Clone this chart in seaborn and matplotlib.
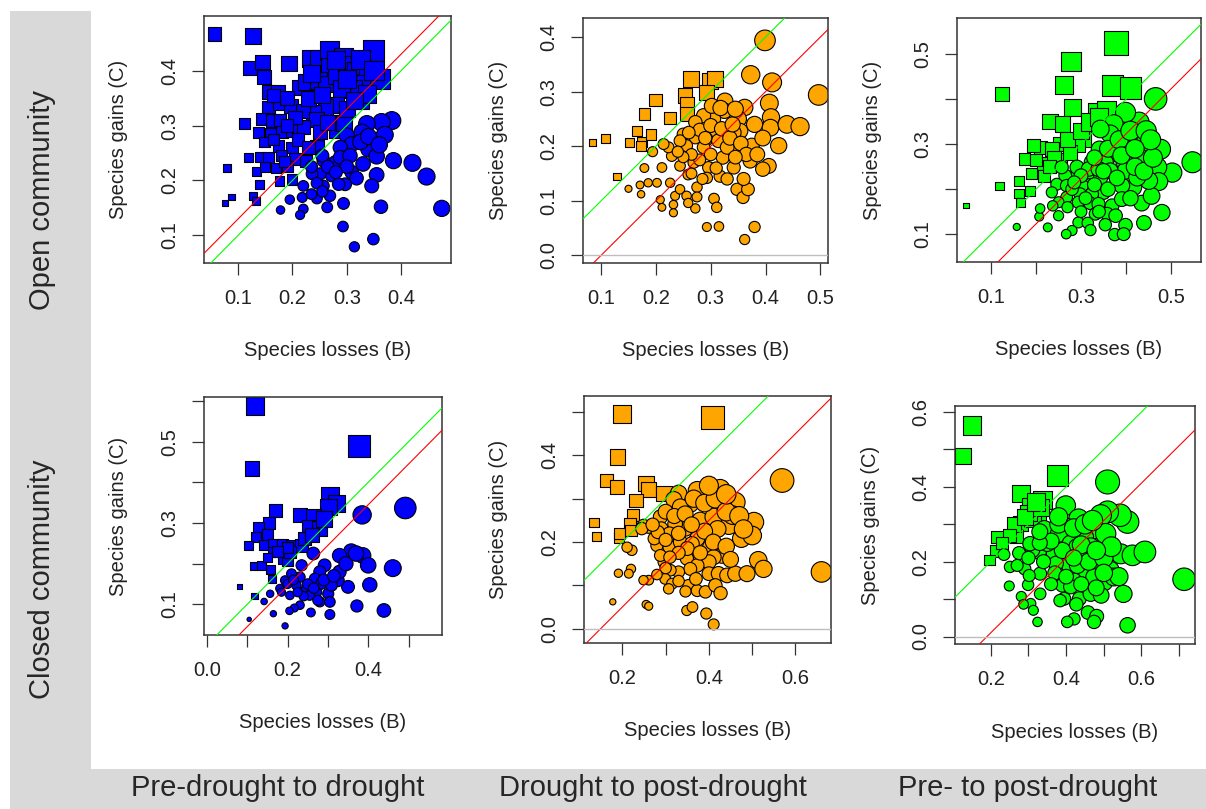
import matplotlib
matplotlib.use("Agg")
import matplotlib.pyplot as plt
from matplotlib.patches import Rectangle
import pandas as pd
import seaborn as sns

# ---------------------------------------------------------------
# Species losses (B) and gains (C) per plot, for each community
# and each transition period.
# ---------------------------------------------------------------
open_pre_B = [
    0.056, 0.127, 0.122, 0.145, 0.147, 0.194, 0.156, 0.173, 0.156, 0.177,
    0.198, 0.214, 0.225, 0.233, 0.248, 0.268, 0.269, 0.248, 0.262, 0.282,
    0.294, 0.312, 0.318, 0.340, 0.349, 0.334, 0.361, 0.312, 0.291, 0.280,
    0.261, 0.239, 0.220, 0.244, 0.282, 0.144, 0.162, 0.177, 0.112, 0.137,
    0.160, 0.180, 0.199, 0.220, 0.251, 0.148, 0.174, 0.199, 0.119, 0.140,
    0.156, 0.180, 0.205, 0.225, 0.080, 0.133, 0.170, 0.191, 0.139, 0.176,
    0.199, 0.088, 0.075, 0.127, 0.133, 0.245, 0.280, 0.295, 0.324, 0.337,
    0.165, 0.190, 0.205, 0.230, 0.255, 0.300, 0.325, 0.280, 0.235, 0.190,
    0.165, 0.210, 0.230, 0.265, 0.300, 0.315, 0.350, 0.150, 0.185,
    0.383, 0.364, 0.337, 0.370, 0.328, 0.300, 0.340, 0.309, 0.288, 0.355,
    0.386, 0.421, 0.447, 0.475, 0.355, 0.346, 0.309, 0.318, 0.297, 0.279,
    0.257, 0.272, 0.251, 0.236, 0.257, 0.220, 0.285, 0.269, 0.245, 0.218,
    0.195, 0.178, 0.220, 0.214, 0.264, 0.294, 0.363, 0.293, 0.349, 0.314,
    0.255, 0.235, 0.288, 0.306,
    0.325, 0.300, 0.265, 0.245, 0.280, 0.330, 0.340, 0.360, 0.235, 0.255,
]
open_pre_C = [
    0.467, 0.463, 0.405, 0.416, 0.388, 0.413, 0.361, 0.361, 0.334, 0.340,
    0.335, 0.370, 0.379, 0.422, 0.422, 0.437, 0.407, 0.382, 0.376, 0.391,
    0.425, 0.410, 0.398, 0.404, 0.437, 0.376, 0.385, 0.367, 0.367, 0.337,
    0.334, 0.324, 0.327, 0.311, 0.306, 0.312, 0.309, 0.309, 0.303, 0.288,
    0.285, 0.288, 0.291, 0.297, 0.288, 0.270, 0.263, 0.260, 0.242, 0.242,
    0.242, 0.245, 0.239, 0.236, 0.223, 0.217, 0.222, 0.226, 0.193, 0.199,
    0.202, 0.170, 0.158, 0.172, 0.163, 0.262, 0.290, 0.305, 0.346, 0.358,
    0.355, 0.350, 0.315, 0.350, 0.355, 0.385, 0.420, 0.420, 0.395, 0.300,
    0.275, 0.275, 0.260, 0.305, 0.330, 0.345, 0.400, 0.225, 0.235,
    0.309, 0.306, 0.303, 0.283, 0.288, 0.282, 0.257, 0.266, 0.260, 0.244,
    0.236, 0.232, 0.207, 0.149, 0.210, 0.190, 0.215, 0.204, 0.193, 0.233,
    0.236, 0.209, 0.212, 0.212, 0.190, 0.190, 0.193, 0.172, 0.167, 0.169,
    0.165, 0.146, 0.148, 0.137, 0.151, 0.158, 0.152, 0.116, 0.093, 0.079,
    0.245, 0.225, 0.242, 0.245,
    0.270, 0.225, 0.225, 0.195, 0.215, 0.230, 0.280, 0.265, 0.175, 0.180,
]

open_post_B = [
    0.084, 0.108, 0.152, 0.129, 0.174, 0.191, 0.165, 0.179, 0.199, 0.226,
    0.253, 0.256, 0.257, 0.264, 0.299, 0.308, 0.292, 0.173,
    0.399, 0.373, 0.412, 0.497, 0.407, 0.410, 0.409, 0.439, 0.463, 0.424,
    0.326, 0.362, 0.325, 0.351, 0.354, 0.305, 0.287, 0.308, 0.272, 0.250,
    0.272, 0.292, 0.314, 0.339, 0.375, 0.256, 0.287, 0.322, 0.372, 0.406,
    0.342, 0.317, 0.296, 0.269, 0.244, 0.229, 0.223, 0.214, 0.211, 0.194,
    0.179, 0.202, 0.186, 0.171, 0.150, 0.173, 0.208, 0.211, 0.226, 0.235,
    0.232, 0.232, 0.244, 0.256, 0.275, 0.275, 0.272, 0.259, 0.306, 0.311,
    0.348, 0.359, 0.368, 0.293, 0.315, 0.380, 0.362, 0.395, 0.330, 0.342,
    0.302, 0.244, 0.293, 0.259,
    0.280, 0.300, 0.320, 0.335, 0.355, 0.365, 0.345, 0.300, 0.280, 0.265,
    0.250, 0.310, 0.330, 0.285, 0.265, 0.360, 0.385, 0.395, 0.380, 0.340,
    0.318, 0.345, 0.290, 0.260, 0.240,
]
open_post_C = [
    0.207, 0.214, 0.207, 0.144, 0.208, 0.222, 0.228, 0.259, 0.285, 0.252,
    0.293, 0.277, 0.259, 0.323, 0.320, 0.323, 0.298, 0.200,
    0.394, 0.331, 0.317, 0.294, 0.279, 0.253, 0.234, 0.240, 0.236, 0.201,
    0.283, 0.271, 0.265, 0.250, 0.228, 0.250, 0.256, 0.228, 0.244, 0.222,
    0.216, 0.213, 0.210, 0.198, 0.201, 0.201, 0.198, 0.179, 0.173, 0.164,
    0.161, 0.145, 0.161, 0.170, 0.164, 0.182, 0.198, 0.204, 0.161, 0.190,
    0.160, 0.133, 0.133, 0.129, 0.122, 0.112, 0.102, 0.088, 0.133, 0.109,
    0.093, 0.078, 0.121, 0.109, 0.125, 0.107, 0.086, 0.096, 0.104, 0.088,
    0.121, 0.106, 0.121, 0.052, 0.053, 0.052, 0.029, 0.158, 0.198, 0.225,
    0.274, 0.210, 0.142, 0.148,
    0.230, 0.238, 0.232, 0.215, 0.205, 0.185, 0.180, 0.185, 0.175, 0.185,
    0.180, 0.160, 0.140, 0.140, 0.150, 0.140, 0.185, 0.215, 0.240, 0.240,
    0.270, 0.268, 0.215, 0.225, 0.190,
]

open_total_B = [
    0.044, 0.119, 0.125, 0.378, 0.278, 0.263, 0.370, 0.410, 0.281, 0.231,
    0.259, 0.335, 0.356, 0.305, 0.292, 0.254, 0.210, 0.194, 0.174, 0.215,
    0.254, 0.190, 0.218, 0.162, 0.186, 0.162, 0.166, 0.235, 0.276,
    0.240, 0.270, 0.300, 0.200, 0.230, 0.320, 0.340,
    0.466, 0.429, 0.399, 0.373, 0.365, 0.343, 0.444, 0.477, 0.426, 0.397,
    0.367, 0.341, 0.324, 0.354, 0.397, 0.548, 0.503, 0.470, 0.473, 0.417,
    0.391, 0.399, 0.365, 0.343, 0.313, 0.317, 0.287, 0.265, 0.246, 0.268,
    0.302, 0.350, 0.324, 0.298, 0.268, 0.235, 0.250, 0.294, 0.320, 0.339,
    0.369, 0.391, 0.435, 0.457, 0.480, 0.358, 0.377, 0.332, 0.294, 0.315,
    0.321, 0.354, 0.399, 0.440, 0.375, 0.395, 0.280, 0.267, 0.226, 0.250,
    0.207, 0.209, 0.157, 0.237, 0.257, 0.291, 0.317, 0.339, 0.451, 0.425,
    0.330, 0.360, 0.385, 0.410, 0.445, 0.390, 0.350, 0.330, 0.300, 0.280,
    0.310, 0.360, 0.380, 0.420, 0.440, 0.460, 0.410, 0.340, 0.300, 0.270,
    0.285, 0.455, 0.420,
]
open_total_C = [
    0.164, 0.207, 0.412, 0.525, 0.484, 0.432, 0.430, 0.425, 0.381, 0.351,
    0.345, 0.371, 0.376, 0.312, 0.300, 0.300, 0.293, 0.297, 0.267, 0.257,
    0.266, 0.234, 0.230, 0.219, 0.197, 0.191, 0.171, 0.289, 0.282,
    0.270, 0.310, 0.330, 0.265, 0.250, 0.350, 0.360,
    0.401, 0.349, 0.371, 0.345, 0.323, 0.334, 0.304, 0.289, 0.274, 0.293,
    0.278, 0.289, 0.260, 0.260, 0.260, 0.260, 0.237, 0.249, 0.217, 0.204,
    0.208, 0.241, 0.241, 0.226, 0.226, 0.208, 0.226, 0.230, 0.211, 0.208,
    0.208, 0.193, 0.189, 0.189, 0.182, 0.193, 0.171, 0.171, 0.169, 0.167,
    0.163, 0.178, 0.169, 0.185, 0.148, 0.145, 0.141, 0.145, 0.126, 0.125,
    0.109, 0.121, 0.120, 0.125, 0.099, 0.100, 0.108, 0.100, 0.115, 0.141,
    0.139, 0.157, 0.116, 0.163, 0.249, 0.249, 0.245, 0.245, 0.219, 0.226,
    0.270, 0.290, 0.310, 0.330, 0.330, 0.275, 0.240, 0.210, 0.230, 0.200,
    0.180, 0.200, 0.225, 0.250, 0.240, 0.270, 0.180, 0.150, 0.150, 0.160,
    0.215, 0.310, 0.290,
]

closed_pre_B = [
    0.120, 0.111, 0.377, 0.306, 0.321, 0.301, 0.171, 0.155, 0.128, 0.122,
    0.150, 0.103, 0.143, 0.165, 0.188, 0.210, 0.235, 0.231, 0.265, 0.254,
    0.280, 0.241, 0.165, 0.189, 0.118, 0.136, 0.157, 0.081, 0.118, 0.161,
    0.200, 0.206, 0.200, 0.175, 0.150, 0.260, 0.290,
    0.492, 0.385, 0.461, 0.387, 0.358, 0.329, 0.400, 0.404, 0.350, 0.325,
    0.329, 0.292, 0.264, 0.280, 0.268, 0.301, 0.272, 0.247, 0.231, 0.222,
    0.206, 0.181, 0.194, 0.210, 0.235, 0.255, 0.231, 0.217, 0.205, 0.258,
    0.305, 0.372, 0.439, 0.165, 0.194, 0.105, 0.142, 0.157, 0.185, 0.280,
    0.305, 0.284, 0.309,
    0.250, 0.240, 0.265, 0.290, 0.315, 0.345, 0.370, 0.200, 0.215, 0.225,
    0.275,
]
closed_pre_C = [
    0.588, 0.434, 0.489, 0.368, 0.348, 0.339, 0.331, 0.300, 0.290, 0.265,
    0.271, 0.245, 0.245, 0.247, 0.247, 0.243, 0.245, 0.319, 0.315, 0.290,
    0.286, 0.261, 0.229, 0.212, 0.194, 0.196, 0.186, 0.144, 0.120, 0.163,
    0.208, 0.229, 0.240, 0.230, 0.215, 0.270, 0.310,
    0.337, 0.320, 0.189, 0.220, 0.230, 0.220, 0.196, 0.148, 0.143, 0.159,
    0.180, 0.196, 0.225, 0.180, 0.163, 0.126, 0.130, 0.139, 0.167, 0.147,
    0.122, 0.139, 0.159, 0.175, 0.196, 0.122, 0.098, 0.091, 0.084, 0.080,
    0.075, 0.096, 0.085, 0.077, 0.047, 0.063, 0.107, 0.126, 0.130, 0.106,
    0.106, 0.151, 0.147,
    0.150, 0.120, 0.140, 0.160, 0.170, 0.200, 0.225, 0.150, 0.160, 0.130,
    0.110,
]

closed_post_B = [
    0.199, 0.409, 0.189, 0.163, 0.188, 0.255, 0.261, 0.232, 0.296, 0.225,
    0.218, 0.134, 0.140, 0.192, 0.194, 0.220,
    0.660, 0.569, 0.504, 0.475, 0.500, 0.446, 0.461, 0.430, 0.400, 0.373,
    0.426, 0.357, 0.330, 0.319, 0.334, 0.380, 0.411, 0.455, 0.373, 0.346,
    0.322, 0.288, 0.290, 0.309, 0.280, 0.309, 0.274, 0.261, 0.249, 0.403,
    0.430, 0.411, 0.400, 0.373, 0.349, 0.373, 0.400, 0.422, 0.442, 0.461,
    0.488, 0.514, 0.526, 0.357, 0.330, 0.311, 0.296, 0.299, 0.315, 0.307,
    0.353, 0.346, 0.373, 0.392, 0.415, 0.427, 0.288, 0.261, 0.249, 0.222,
    0.211, 0.220, 0.215, 0.191, 0.178, 0.255, 0.261, 0.349, 0.362, 0.394,
    0.411, 0.245, 0.282, 0.334, 0.361,
    0.300, 0.320, 0.345, 0.365, 0.390, 0.415, 0.440, 0.470, 0.480, 0.420,
    0.390, 0.360, 0.330, 0.350, 0.330, 0.310, 0.380, 0.410, 0.440, 0.450,
    0.300, 0.330, 0.370, 0.280, 0.300, 0.270, 0.400, 0.440,
]
closed_post_C = [
    0.496, 0.488, 0.396, 0.342, 0.327, 0.335, 0.322, 0.296, 0.312, 0.262,
    0.242, 0.245, 0.213, 0.210, 0.219, 0.227,
    0.131, 0.342, 0.246, 0.208, 0.215, 0.238, 0.292, 0.288, 0.306, 0.319,
    0.322, 0.288, 0.312, 0.298, 0.281, 0.250, 0.258, 0.262, 0.208, 0.231,
    0.242, 0.258, 0.231, 0.219, 0.192, 0.188, 0.208, 0.235, 0.238, 0.188,
    0.169, 0.165, 0.154, 0.173, 0.162, 0.146, 0.127, 0.127, 0.123, 0.127,
    0.127, 0.158, 0.138, 0.138, 0.131, 0.135, 0.154, 0.115, 0.104, 0.092,
    0.100, 0.086, 0.088, 0.085, 0.100, 0.082, 0.169, 0.112, 0.112, 0.181,
    0.188, 0.138, 0.127, 0.128, 0.062, 0.056, 0.052, 0.042, 0.050, 0.035,
    0.010, 0.231, 0.223, 0.200, 0.196,
    0.270, 0.260, 0.265, 0.300, 0.290, 0.300, 0.270, 0.260, 0.230, 0.230,
    0.225, 0.240, 0.220, 0.185, 0.175, 0.165, 0.175, 0.200, 0.190, 0.160,
    0.140, 0.110, 0.115, 0.125, 0.205, 0.240, 0.330, 0.310,
]

closed_total_B = [
    0.150, 0.127, 0.377, 0.280, 0.337, 0.304, 0.324, 0.280, 0.266, 0.218,
    0.213, 0.197, 0.311, 0.262, 0.300, 0.330, 0.290, 0.320, 0.250, 0.230,
    0.510, 0.563, 0.543, 0.510, 0.492, 0.399, 0.433, 0.399, 0.358, 0.342,
    0.381, 0.474, 0.505, 0.448, 0.412, 0.368, 0.328, 0.311, 0.275, 0.304,
    0.235, 0.251, 0.290, 0.331, 0.381, 0.408, 0.448, 0.483, 0.517, 0.545,
    0.576, 0.609, 0.713, 0.501, 0.527, 0.474, 0.421, 0.390, 0.395, 0.435,
    0.465, 0.493, 0.552, 0.384, 0.427, 0.458, 0.481, 0.474, 0.421, 0.403,
    0.563, 0.331, 0.299, 0.249, 0.281, 0.306, 0.313, 0.287, 0.324, 0.430,
    0.465, 0.373, 0.350, 0.448, 0.302, 0.412,
    0.380, 0.420, 0.450, 0.470, 0.440, 0.390, 0.360, 0.330, 0.340, 0.370,
    0.400, 0.430, 0.460, 0.500, 0.520, 0.480, 0.420, 0.360, 0.440, 0.480,
    0.540, 0.500, 0.380, 0.330, 0.300, 0.270,
]
closed_total_C = [
    0.564, 0.482, 0.431, 0.383, 0.364, 0.348, 0.328, 0.301, 0.268, 0.266,
    0.228, 0.205, 0.315, 0.300, 0.330, 0.345, 0.320, 0.360, 0.270, 0.250,
    0.413, 0.306, 0.324, 0.333, 0.324, 0.350, 0.315, 0.293, 0.275, 0.288,
    0.275, 0.288, 0.275, 0.266, 0.248, 0.221, 0.226, 0.230, 0.223, 0.248,
    0.219, 0.186, 0.181, 0.168, 0.168, 0.190, 0.172, 0.194, 0.177, 0.221,
    0.217, 0.226, 0.153, 0.145, 0.159, 0.159, 0.150, 0.137, 0.101, 0.101,
    0.114, 0.110, 0.114, 0.096, 0.086, 0.064, 0.054, 0.039, 0.047, 0.039,
    0.030, 0.114, 0.138, 0.135, 0.107, 0.088, 0.070, 0.086, 0.039, 0.239,
    0.239, 0.195, 0.248, 0.217, 0.163, 0.133,
    0.300, 0.290, 0.300, 0.310, 0.245, 0.230, 0.255, 0.250, 0.200, 0.170,
    0.160, 0.190, 0.200, 0.210, 0.240, 0.230, 0.210, 0.140, 0.140, 0.130,
    0.160, 0.170, 0.320, 0.280, 0.210, 0.190,
]

# mean shift (C - B) shown by the red reference line of each panel
mean_shift = [0.030, -0.100, -0.077, -0.055, -0.150, -0.190]

row_labels = ["Open community", "Closed community"]
col_labels = ["Pre-drought to drought", "Drought to post-drought",
              "Pre- to post-drought"]

# ---------------------------------------------------------------
# Layout (pixels on a 1206 x 809 canvas) and axis settings
# ---------------------------------------------------------------
W, H, DPI = 1206, 809, 100
PX2PT = 72.0 / DPI

BLUE, ORANGE, GREEN = "#0000FF", "#FFA500", "#00FF00"


def tick_text(ticks, shown):
    return [f"{t:.1f}" if t in shown else "" for t in ticks]


panels = [
    dict(B=open_pre_B, C=open_pre_C, fill=BLUE, box=(204, 16, 451, 263),
         xlim=(0.037, 0.492), ylim=(0.0495, 0.4996),
         xt=[0.1, 0.2, 0.3, 0.4], xs=[0.1, 0.2, 0.3, 0.4],
         yt=[0.1, 0.2, 0.3, 0.4], ys=[0.1, 0.2, 0.3, 0.4]),
    dict(B=open_post_B, C=open_post_C, fill=ORANGE, box=(583, 18, 828, 263),
         xlim=(0.067, 0.514), ylim=(-0.014, 0.435),
         xt=[0.1, 0.2, 0.3, 0.4, 0.5], xs=[0.1, 0.2, 0.3, 0.4, 0.5],
         yt=[0.0, 0.1, 0.2, 0.3, 0.4], ys=[0.0, 0.1, 0.2, 0.3, 0.4]),
    dict(B=open_total_B, C=open_total_C, fill=GREEN, box=(957, 18, 1201, 262),
         xlim=(0.024, 0.567), ylim=(0.038, 0.581),
         xt=[0.1, 0.2, 0.3, 0.4, 0.5], xs=[0.1, 0.3, 0.5],
         yt=[0.1, 0.2, 0.3, 0.4, 0.5], ys=[0.1, 0.3, 0.5]),
    dict(B=closed_pre_B, C=closed_pre_C, fill=BLUE, box=(204, 397, 442, 635),
         xlim=(-0.007, 0.583), ylim=(0.0246, 0.61),
         xt=[0.0, 0.1, 0.2, 0.3, 0.4, 0.5], xs=[0.0, 0.2, 0.4],
         yt=[0.1, 0.2, 0.3, 0.4, 0.5, 0.6], ys=[0.1, 0.3, 0.5]),
    dict(B=closed_post_B, C=closed_post_C, fill=ORANGE, box=(584, 396, 831, 643),
         xlim=(0.1115, 0.682), ylim=(-0.033, 0.537),
         xt=[0.2, 0.3, 0.4, 0.5, 0.6], xs=[0.2, 0.4, 0.6],
         yt=[0.0, 0.1, 0.2, 0.3, 0.4, 0.5], ys=[0.0, 0.2, 0.4]),
    dict(B=closed_total_B, C=closed_total_C, fill=GREEN, box=(955, 406, 1195, 644),
         xlim=(0.105, 0.742), ylim=(-0.02, 0.616),
         xt=[0.2, 0.3, 0.4, 0.5, 0.6, 0.7], xs=[0.2, 0.4, 0.6],
         yt=[0.0, 0.1, 0.2, 0.3, 0.4, 0.5, 0.6], ys=[0.0, 0.2, 0.4, 0.6]),
]

sns.set_style("white")
plt.rcParams["font.family"] = ["Liberation Sans", "DejaVu Sans"]

fig = plt.figure(figsize=(W / DPI, H / DPI), dpi=DPI)
fig.patch.set_facecolor("white")

# grey header band: left strip for rows, bottom strip for columns
HEADER = "#d9d9d9"
fig.add_artist(Rectangle((10 / W, 0), 81 / W, (H - 11) / H,
                         transform=fig.transFigure, facecolor=HEADER,
                         edgecolor="none", zorder=0))
fig.add_artist(Rectangle((10 / W, 0), (W - 10) / W, (H - 769) / H,
                         transform=fig.transFigure, facecolor=HEADER,
                         edgecolor="none", zorder=0))

for label, yc in zip(row_labels, [200, 579]):
    fig.text(42 / W, 1 - yc / H, label, rotation=90, fontsize=21,
             ha="center", va="center")
for label, xc in zip(col_labels, [278, 653, 1028]):
    fig.text(xc / W, 1 - 788 / H, label, fontsize=21, ha="center",
             va="center")

# marker diameter grows linearly with total turnover (B + C)
DIAM_PER_UNIT = 26.0 * PX2PT  # points of diameter per unit of turnover

for spec, shift in zip(panels, mean_shift):
    x0, y0, x1, y1 = spec["box"]
    wpx, hpx = x1 - x0, y1 - y0
    ax = fig.add_axes([x0 / W, 1 - y1 / H, wpx / W, hpx / H])
    ax.set_facecolor("white")

    df = pd.DataFrame({"B": spec["B"], "C": spec["C"]})
    df["kind"] = ["gain" if c > b else "loss" for b, c in zip(df["B"], df["C"])]
    area = ((df["B"] + df["C"]) * DIAM_PER_UNIT) ** 2

    sns.scatterplot(
        data=df, x="B", y="C", style="kind",
        markers={"gain": "s", "loss": "o"},
        s=area.to_numpy(),
        color=spec["fill"], edgecolor="black", linewidth=0.8,
        legend=False, ax=ax, zorder=2,
    )

    # reference lines: no net change (green), mean change (red), zero gain
    ax.axline((0, 0), slope=1, color="#00FF00", lw=0.8, zorder=3)
    ax.axline((0, shift), slope=1, color="#FF0000", lw=0.8, zorder=3)
    ax.axhline(0, color="#BEBEBE", lw=1.0, zorder=3)

    ax.set_xlim(*spec["xlim"])
    ax.set_ylim(*spec["ylim"])
    ax.set_xticks(spec["xt"], labels=tick_text(spec["xt"], spec["xs"]))
    ax.set_yticks(spec["yt"], labels=tick_text(spec["yt"], spec["ys"]))
    ax.tick_params(axis="both", which="major", direction="out",
                   bottom=True, left=True, length=12 * PX2PT, width=0.9,
                   color="#333333", labelsize=14.5, labelcolor="#222222")
    ax.tick_params(axis="x", pad=10)
    ax.tick_params(axis="y", pad=9, labelrotation=90)
    for lab in ax.get_yticklabels():
        lab.set_va("center")

    for sp in ax.spines.values():
        sp.set_visible(True)
        sp.set_color("#333333")
        sp.set_linewidth(1.1)

    ax.set_xlabel("Species losses (B)", fontsize=14.5, color="#222222")
    ax.xaxis.label.set_va("center")
    ax.xaxis.set_label_coords(0.5, -88 / hpx)
    ax.set_ylabel("Species gains (C)", fontsize=14.5, color="#222222")
    ax.yaxis.label.set_va("center")
    ax.yaxis.label.set_ha("center")
    ax.yaxis.set_label_coords(-85 / wpx, 0.5)

fig.savefig("out.png", dpi=DPI, facecolor="white")
